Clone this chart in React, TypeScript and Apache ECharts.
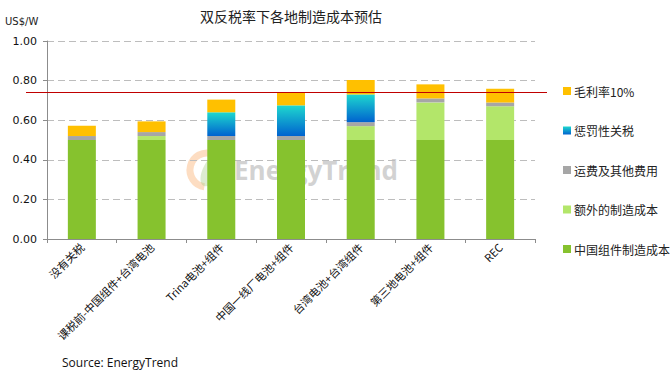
import React, { useEffect, useRef } from "react";
import * as echarts from "echarts";

const categories = [
  "没有关税",
  "课税前-中国组件+台湾电池",
  "Trina电池+组件",
  "中国一线厂电池+组件",
  "台湾电池+台湾组件",
  "第三地电池+组件",
  "REC",
];
const chinaCost = [0.5, 0.5, 0.5, 0.5, 0.5, 0.5, 0.5];
const extraCost = [0, 0.02, 0, 0, 0.07, 0.19, 0.17];
const freightCost = [0.02, 0.02, 0.02, 0.02, 0.02, 0.02, 0.02];
const tariffCost = [0, 0, 0.12, 0.155, 0.14, 0, 0];
const marginCost = [0.052, 0.054, 0.064, 0.067, 0.073, 0.071, 0.069];
const refLine = 0.74;
const yTicks = { min: 0, max: 1, interval: 0.2 };

const seriesNames = ["中国组件制造成本", "额外的制造成本", "运费及其他费用", "惩罚性关税", "毛利率10%"];

export default function App() {
  const ref = useRef<HTMLDivElement>(null);
  useEffect(() => {
    if (!ref.current) return;
    const chart = echarts.init(ref.current, null, { renderer: "svg" });
    const cjk = '"Noto Sans CJK SC", sans-serif';
    const mk = (name: string, data: number[], color: any) => ({
      name,
      type: "bar",
      stack: "total",
      data,
      barWidth: 28,
      itemStyle: { color },
    });
    const option: any = {
      animation: false,
      backgroundColor: "#fff",
      title: {
        text: "双反税率下各地制造成本预估",
        left: 286,
        textAlign: "center",
        top: 4,
        textStyle: { fontFamily: cjk, fontSize: 14, fontWeight: "normal", color: "#222" },
      },
      grid: { left: 47, right: 136, top: 41, bottom: 134 },
      legend: {
        orient: "vertical",
        left: 558,
        top: 77,
        itemWidth: 8,
        itemHeight: 8,
        itemGap: 21.5,
        icon: "rect",
        data: seriesNames.slice().reverse(),
        textStyle: { fontFamily: cjk, fontSize: 12, color: "#222", padding: [0, 0, 0, -2], lineHeight: 18 },
      },
      xAxis: {
        type: "category",
        data: categories,
        axisLine: { lineStyle: { color: "#8c8c8c" } },
        axisTick: { show: true, length: 4, lineStyle: { color: "#8c8c8c" } },
        axisLabel: {
          rotate: 45,
          interval: 0,
          fontFamily: cjk,
          fontSize: 11,
          color: "#111",
          margin: 6,
        },
      },
      yAxis: {
        type: "value",
        min: yTicks.min,
        max: yTicks.max,
        interval: yTicks.interval,
        axisLine: { show: true, lineStyle: { color: "#8c8c8c" } },
        axisTick: { show: true, length: 4, lineStyle: { color: "#8c8c8c" } },
        axisLabel: {
          formatter: (v: number) => v.toFixed(2),
          fontFamily: '"DejaVu Sans", sans-serif',
          fontSize: 11,
          color: "#111",
          margin: 10,
        },
        splitLine: { lineStyle: { color: "#bdbdbd", type: [7, 4] } },
      },
      series: [
        mk(seriesNames[0], chinaCost, "#86c22e"),
        mk(seriesNames[1], extraCost, "#b3e66a"),
        mk(seriesNames[2], freightCost, "#a6a6a6"),
        mk(
          seriesNames[3],
          tariffCost,
          new echarts.graphic.LinearGradient(0, 0, 0, 1, [
            { offset: 0, color: "#1ed8cf" },
            { offset: 1, color: "#0062cf" },
          ])
        ),
        mk(seriesNames[4], marginCost, "#ffc000"),
      ],
      graphic: [
        {
          type: "text",
          left: 5,
          top: 16,
          style: { text: "US$/W", fontFamily: '"DejaVu Sans", sans-serif', fontSize: 10, fill: "#222" },
        },
        {
          type: "text",
          left: 62,
          top: 356,
          style: { text: "Source: EnergyTrend", fontFamily: '"Open Sans", sans-serif', fontSize: 12, fill: "#111" },
        },
        {
          type: "arc",
          z: -5,
          shape: { cx: 207, cy: 170, r: 17, startAngle: Math.PI * 0.55, endAngle: Math.PI * 1.6 },
          style: { stroke: "rgba(250,180,120,0.45)", lineWidth: 7, fill: "none" },
        },
        {
          type: "ellipse",
          z: -5,
          shape: { cx: 212, cy: 170, rx: 9, ry: 18 },
          rotation: -0.5,
          originX: 212,
          originY: 170,
          style: { fill: "rgba(170,205,140,0.4)" },
        },
        {
          type: "text",
          z: -5,
          left: 234,
          top: 157,
          style: {
            text: "EnergyTrend",
            fontFamily: '"Open Sans", sans-serif',
            fontSize: 26,
            fontWeight: "bold",
            fill: "rgba(190,190,190,0.7)",
          },
        },
      ],
    };
    chart.setOption(option);
    const y = chart.convertToPixel({ yAxisIndex: 0 }, refLine) as number;
    chart.setOption({
      graphic: [
        ...option.graphic,
        {
          type: "line",
          z: 10,
          shape: { x1: 26, y1: Math.round(y) + 0.5, x2: 547, y2: Math.round(y) + 0.5 },
          style: { stroke: "#c00000", lineWidth: 1 },
        },
      ],
    });
    return () => chart.dispose();
  }, []);
  return <div ref={ref} style={{ width: 671, height: 373, position: "absolute", left: 0, top: 0 }} />;
}
